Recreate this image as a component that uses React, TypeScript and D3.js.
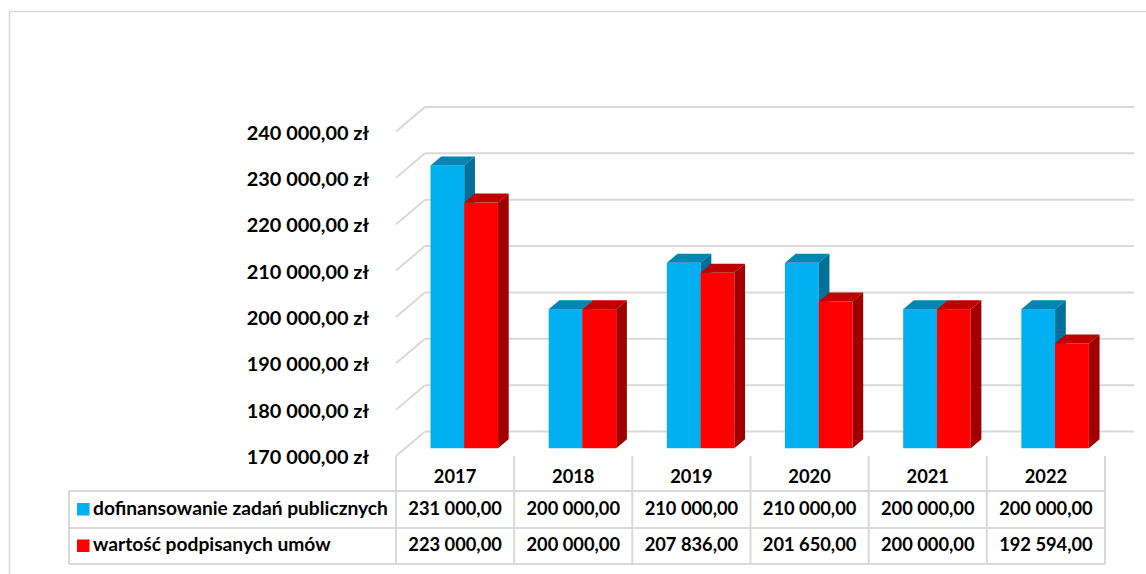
import { useEffect, useRef } from 'react';
import * as d3 from 'd3';

// data
const years = ['2017', '2018', '2019', '2020', '2021', '2022'];
const seriesNames = ['dofinansowanie zadań publicznych', 'wartość podpisanych umów'];
const dofinansowanie = [231000, 200000, 210000, 210000, 200000, 200000];
const umowy = [223000, 200000, 207836, 201650, 200000, 192594];
const yTicks = [170000, 180000, 190000, 200000, 210000, 220000, 230000, 240000];

const W = 1146;
const H = 574;

const faces = [
  { front: '#00b0f0', top: '#0085b5', side: '#00709a' },
  { front: '#ff0000', top: '#c00000', side: '#a00000' },
];

// floor depth vector (front -> back)
const DX = 29;
const DY = 24.5;
const F1 = 0.317;
const F2 = 0.685;

const fmt = (v: number) => {
  const s = d3.format(',.2f')(v);
  return s.replace(/,/g, ' ').replace('.', ',');
};

const App = () => {
  const svgRef = useRef<SVGSVGElement>(null);

  useEffect(() => {
    const svg = d3.select(svgRef.current);
    svg.selectAll('*').remove();

    const font = 'Lato, "Open Sans", sans-serif';
    const grid = '#d9d9d9';

    // outer chart border
    svg.append('path')
      .attr('d', `M9.5,${H}V11.5H${W}`)
      .attr('fill', 'none')
      .attr('stroke', grid)
      .attr('stroke-width', 1.5);

    const x0 = 396;
    const x1 = 1105;
    const x = d3.scaleBand().domain(years).range([x0, x1]);
    const xs = d3.scaleBand().domain(['a', 'b']).range([0, x.bandwidth()]).paddingInner(0).paddingOuter(0.75);
    const y = d3.scaleLinear().domain([170000, 240000]).range([456, 131.5]);

    const g = svg.append('g');

    // back wall gridlines + left diagonals
    yTicks.forEach((t) => {
      const yf = y(t);
      g.append('line')
        .attr('x1', x0 + DX).attr('x2', x1 + DX)
        .attr('y1', yf - DY).attr('y2', yf - DY)
        .attr('stroke', grid).attr('stroke-width', 2);
      g.append('line')
        .attr('x1', x0).attr('x2', x0 + DX)
        .attr('y1', yf).attr('y2', yf - DY)
        .attr('stroke', grid).attr('stroke-width', 2);
      g.append('text')
        .attr('x', 369)
        .attr('y', yf + 3)
        .attr('text-anchor', 'end')
        .attr('dominant-baseline', 'middle')
        .attr('font-family', font)
        .attr('font-weight', 700)
        .attr('font-size', 19.9)
        .attr('fill', '#000')
        .text(fmt(t) + ' zł');
    });

    // bars
    const ox = F1 * DX;
    const oy = F1 * DY;
    const ddx = (F2 - F1) * DX;
    const ddy = (F2 - F1) * DY;
    const series = [dofinansowanie, umowy];
    years.forEach((yr, i) => {
      series.forEach((vals, s) => {
        const bx = (x(yr) as number) + (xs(s === 0 ? 'a' : 'b') as number) + ox;
        const bw = xs.bandwidth();
        const yt = y(vals[i]) - oy;
        const yb = y(170000) - oy;
        const c = faces[s];
        const bg = g.append('g');
        bg.append('rect')
          .attr('x', bx).attr('y', yt)
          .attr('width', bw).attr('height', yb - yt)
          .attr('fill', c.front);
        bg.append('polygon')
          .attr('points', [
            [bx, yt], [bx + bw, yt], [bx + bw + ddx, yt - ddy], [bx + ddx, yt - ddy],
          ].map((p) => p.join(',')).join(' '))
          .attr('fill', c.top);
        bg.append('polygon')
          .attr('points', [
            [bx + bw, yt], [bx + bw + ddx, yt - ddy], [bx + bw + ddx, yb - ddy], [bx + bw, yb],
          ].map((p) => p.join(',')).join(' '))
          .attr('fill', c.side);
      });
    });

    // data table
    const rowTop = 456;
    const r1 = 491;
    const r2 = 528;
    const r3 = 564;
    const tl = svg.append('g').attr('stroke', grid).attr('stroke-width', 2);
    [r1, r2, r3].forEach((ry) => {
      tl.append('line').attr('x1', 69).attr('x2', x1).attr('y1', ry).attr('y2', ry);
    });
    tl.append('line').attr('x1', 69).attr('x2', 69).attr('y1', r1).attr('y2', r3);
    [...years.map((yr) => x(yr) as number), x1].forEach((vx) => {
      tl.append('line').attr('x1', vx).attr('x2', vx).attr('y1', rowTop).attr('y2', r3);
    });

    const tt = svg.append('g')
      .attr('font-family', font)
      .attr('font-weight', 700)
      .attr('font-size', 18.3)
      .attr('fill', '#000');

    years.forEach((yr, i) => {
      const cx = (x(yr) as number) + x.bandwidth() / 2;
      tt.append('text').attr('x', cx).attr('y', 478.5).attr('text-anchor', 'middle')
        .attr('dominant-baseline', 'middle').text(yr);
      tt.append('text').attr('x', cx).attr('y', (r1 + r2) / 2 + 0.5).attr('text-anchor', 'middle')
        .attr('dominant-baseline', 'middle').text(fmt(dofinansowanie[i]));
      tt.append('text').attr('x', cx).attr('y', (r2 + r3) / 2 + 0.5).attr('text-anchor', 'middle')
        .attr('dominant-baseline', 'middle').text(fmt(umowy[i]));
    });

    [[r1, r2], [r2, r3]].forEach(([a, b], s) => {
      const cy = (a + b) / 2;
      svg.append('rect')
        .attr('x', 77).attr('y', cy - 6.5)
        .attr('width', 12.5).attr('height', 12.5)
        .attr('fill', faces[s].front);
      tt.append('text').attr('x', 93).attr('y', cy + 0.5)
        .attr('font-size', 19.2)
        .attr('dominant-baseline', 'middle').text(seriesNames[s]);
    });
  }, []);

  return (
    <svg
      ref={svgRef}
      width={W}
      height={H}
      style={{ position: 'absolute', left: 0, top: 0, background: '#fff' }}
    />
  );
};

export default App;
